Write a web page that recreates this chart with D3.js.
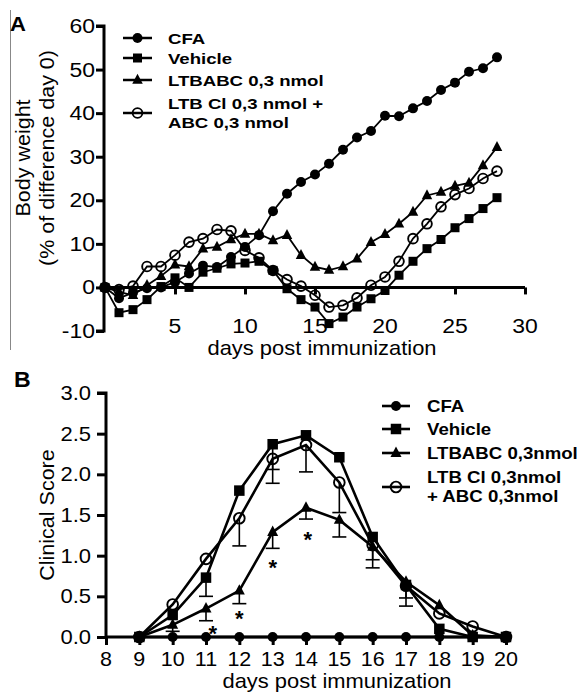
<!DOCTYPE html>
<html><head><meta charset="utf-8">
<script src="https://cdn.jsdelivr.net/npm/d3@7"></script>
<style>html,body{margin:0;padding:0;background:#fff}svg{display:block;font-family:"Liberation Sans",Arial,sans-serif}</style>
</head><body>
<svg id="c" width="578" height="692"></svg>
<script>
// ---------- Panel A data ----------
const daysA = [0,1,2,3,4,5,6,7,8,9,10,11,12,13,14,15,16,17,18,19,20,21,22,23,24,25,26,27,28];
const cfaA = [0,-2.5,-1.2,-0.2,0,1.2,3.2,5,4.7,7,9.3,12,17.5,21.5,24.2,25.9,28.4,31.6,34.4,35.9,39.4,39.3,41.1,42.8,45.3,47,49.5,50.3,52.8];
const vehicleA = [0,-5.8,-5.1,-2.8,0.2,2.2,0,3.5,4.4,5.4,5.6,6,3.9,-0.3,-2.8,-4.5,-8.3,-6.8,-4.5,-2.6,-0.7,2.8,6,8.9,11,13.7,15.8,18.1,20.6];
const ltbabcA = [0,-1,-1.8,0.5,2.6,5.2,4.8,8.9,9.3,11,12.3,12.3,10.8,12,7.4,4.7,4,4.8,6.6,10.4,12.2,14.6,17.3,21.1,21.9,23.3,24,28,32.2];
const ltbclA = [0,-0.5,0.3,4.8,4.8,7.4,10.4,11.2,13.3,13,8.5,6.8,3.9,1.8,0.3,-1.8,-4.5,-4.1,-2.4,0.5,2.4,6,11.2,14.6,18.5,21.3,22.7,25,26.7];
const yTicksA = [-10,0,10,20,30,40,50,60];
const xTicksA = [5,10,15,20,25,30];
const legendA = ["CFA","Vehicle","LTBABC 0,3 nmol",["LTB Cl 0,3 nmol +","ABC 0,3 nmol"]];

// ---------- Panel B data ----------
const daysB = [9,10,11,12,13,14,15,16,17,18,19,20];
const cfaB = [0,0,0,0,0,0,0,0,0,0,0,0];
const vehicleB = [0,0.27,0.73,1.8,2.37,2.48,2.21,1.23,0.64,0.1,0,0];
const ltbabcB = [0,0.15,0.35,0.57,1.29,1.59,1.44,1.11,0.68,0.39,0.02,0];
const ltbclB = [0,0.4,0.96,1.46,2.19,2.36,1.9,1.13,0.63,0.29,0.13,0];
const vehicleErrB = [0,0,0.23,0,0.31,0,0,0,0.16,0,0,0];
const ltbabcErrB = [0,0.08,0.15,0.16,0.2,0.14,0.21,0.16,0,0,0,0];
const ltbclErrB = [0,0,0,0.34,0.3,0.33,0.37,0.28,0.25,0,0,0];
const starDaysB = [11.2,12,13,14.05];
const starValsB = [0.1,0.28,0.91,1.25];
const yTicksB = [0,0.5,1.0,1.5,2.0,2.5,3.0];
const xTicksB = [8,9,10,11,12,13,14,15,16,17,18,19,20];
const legendB = ["CFA","Vehicle","LTBABC 0,3nmol",["LTB Cl 0,3nmol","+ ABC 0,3nmol"]];

const svg = d3.select("#c");
const FONT = '"Liberation Sans",Arial,sans-serif';

function stext(g, x, y, str, size, sx, opts) {
  opts = opts || {};
  const t = g.append("text")
    .attr("transform", `translate(${x},${y})${opts.rotate ? " rotate(-90)" : ""} scale(${sx},1)`)
    .attr("font-size", size).attr("font-family", FONT).attr("fill", "#000")
    .attr("text-anchor", opts.anchor || "start").text(str);
  if (opts.bold) t.attr("font-weight", "bold");
  return t;
}

function marker(g, type, x, y, s) {
  if (type === "circle") {
    g.append("circle").attr("cx",x).attr("cy",y).attr("r",s/2).attr("fill","#000");
  } else if (type === "open") {
    g.append("circle").attr("cx",x).attr("cy",y).attr("r",s/2-0.9).attr("fill","none").attr("stroke","#000").attr("stroke-width",1.9);
  } else if (type === "square") {
    g.append("rect").attr("x",x-s/2).attr("y",y-s/2).attr("width",s).attr("height",s).attr("fill","#000");
  } else if (type === "triangle") {
    const h = s*0.95;
    g.append("path").attr("d",`M${x},${y-h*0.62}L${x+s/2},${y+h*0.38}L${x-s/2},${y+h*0.38}Z`).attr("fill","#000");
  }
}

// ================= PANEL A =================
const xA = d3.scaleLinear().domain([0,30]).range([105,525]);
const yA = d3.scaleLinear().domain([-10,60]).range([331,26]);
const gA = svg.append("g");

gA.append("line").attr("x1",10.5).attr("x2",10.5).attr("y1",10).attr("y2",350).attr("stroke","#888").attr("stroke-width",1);

const yAxisA = d3.axisLeft(yA).tickValues(yTicksA).tickSize(8).tickFormat("");
const gyA = gA.append("g").attr("transform",`translate(${xA(0)-1},0)`).call(yAxisA);
gyA.select(".domain").attr("stroke-width",3).attr("d",`M-8,${yA(60)}H0V${yA(-10)}H-8`);
gyA.selectAll(".tick line").attr("stroke-width",3);
yTicksA.forEach(d => stext(gA, 95, yA(d)+7, d, 20.5, 1.12, {anchor:"end"}));

const xAxisA = d3.axisBottom(xA).tickValues(xTicksA).tickSize(7).tickFormat("");
const gxA = gA.append("g").attr("transform",`translate(0,${yA(0)})`).call(xAxisA);
gxA.select(".domain").attr("stroke-width",3).attr("d",`M${xA(0)},0H${xA(30)}`);
gxA.selectAll(".tick line").attr("stroke-width",3);
xTicksA.forEach(d => stext(gA, xA(d), 333, d, 20.5, 1.12, {anchor:"middle"}));
stext(gA, xA(15)+7, 355, "days post immunization", 20.5, 1.07, {anchor:"middle"});
stext(gA, 30, 158, "Body weight", 20.5, 1.05, {anchor:"middle", rotate:true});
stext(gA, 54, 158, "(% of difference day 0)", 20.5, 1.05, {anchor:"middle", rotate:true});
stext(gA, 10, 31, "A", 21, 1.05, {bold:true});

const seriesA = [
  {vals: cfaA, type:"circle", size:10},
  {vals: vehicleA, type:"square", size:9},
  {vals: ltbabcA, type:"triangle", size:10.5},
  {vals: ltbclA, type:"open", size:11.5}
];
const lineA = d3.line().x(d=>xA(d[0])).y(d=>yA(d[1]));
seriesA.forEach(s => {
  const pts = daysA.map((d,i)=>[d, s.vals[i]]);
  gA.append("path").attr("d",lineA(pts)).attr("fill","none").attr("stroke","#000").attr("stroke-width",1.8);
});
seriesA.forEach(s => {
  const g = gA.append("g");
  daysA.forEach((d,i)=>marker(g, s.type, xA(d), yA(s.vals[i]), s.size));
});

const legAy = [38,58,80,113];
seriesA.forEach((s,i) => {
  const y = legAy[i];
  gA.append("line").attr("x1",123).attr("x2",152).attr("y1",y).attr("y2",y).attr("stroke","#000").attr("stroke-width",2.5);
  marker(gA, s.type, 137.5, y, s.size);
  const lab = legendA[i];
  if (Array.isArray(lab)) {
    stext(gA, 168, y-10+5.5, lab[0], 15.5, 1.2, {bold:true});
    stext(gA, 168, y+9+5.5, lab[1], 15.5, 1.2, {bold:true});
  } else {
    stext(gA, 168, y+5.5, lab, 15.5, 1.2, {bold:true});
  }
});

// ================= PANEL B =================
const xB = d3.scaleLinear().domain([8,20]).range([106,506]);
const yB = d3.scaleLinear().domain([0,3]).range([637,393]);
const gB = svg.append("g");

const yAxisB = d3.axisLeft(yB).tickValues(yTicksB).tickSize(9).tickFormat("");
const gyB = gB.append("g").attr("transform",`translate(${xB(8)},0)`).call(yAxisB);
gyB.select(".domain").attr("stroke-width",3).attr("d",`M-9,${yB(3)}H0V${yB(0)}`);
gyB.selectAll(".tick line").attr("stroke-width",3);
yTicksB.forEach(d => stext(gB, 91, yB(d)+7, d3.format(".1f")(d), 20, 1.1, {anchor:"end"}));

const xAxisB = d3.axisBottom(xB).tickValues(xTicksB).tickSize(8).tickFormat("");
const gxB = gB.append("g").attr("transform",`translate(0,${yB(0)})`).call(xAxisB);
gxB.select(".domain").attr("stroke-width",3).attr("d",`M${xB(8)},0H${xB(20)}`);
gxB.selectAll(".tick line").attr("stroke-width",3);
xTicksB.forEach(d => stext(gB, xB(d), 666, d, 20.5, 1.05, {anchor:"middle"}));

stext(gB, 337, 688, "days post immunization", 20.5, 1.07, {anchor:"middle"});
stext(gB, 54, yB(1.5), "Clinical Score", 20.5, 1.05, {anchor:"middle", rotate:true});
stext(gB, 14, 387, "B", 22, 1.05, {bold:true});

const seriesB = [
  {vals: cfaB, err:null, type:"circle", size:10},
  {vals: vehicleB, err:vehicleErrB, type:"square", size:10.5},
  {vals: ltbabcB, err:ltbabcErrB, type:"triangle", size:11},
  {vals: ltbclB, err:ltbclErrB, type:"open", size:12.5}
];
const lineB = d3.line().x(d=>xB(d[0])).y(d=>yB(d[1]));
seriesB.forEach(s => {
  if (!s.err) return;
  daysB.forEach((d,i)=>{
    const e = s.err[i]; if (!e) return;
    const x = xB(d), y0 = yB(s.vals[i]), y1 = yB(s.vals[i]-e);
    gB.append("line").attr("x1",x).attr("x2",x).attr("y1",y0).attr("y2",y1).attr("stroke","#000").attr("stroke-width",1.6);
    gB.append("line").attr("x1",x-7).attr("x2",x+7).attr("y1",y1).attr("y2",y1).attr("stroke","#000").attr("stroke-width",1.6);
  });
});
seriesB.forEach(s => {
  const pts = daysB.map((d,i)=>[d, s.vals[i]]);
  gB.append("path").attr("d",lineB(pts)).attr("fill","none").attr("stroke","#000").attr("stroke-width",2.6);
});
seriesB.slice().reverse().forEach(s => {
  const g = gB.append("g");
  daysB.forEach((d,i)=>marker(g, s.type, xB(d), yB(s.vals[i]), s.size));
});
gB.selectAll(".star").data(starDaysB).join("text")
  .attr("x",d=>xB(d)).attr("y",(d,i)=>yB(starValsB[i])+12).attr("text-anchor","middle")
  .attr("font-size",22).attr("font-weight","bold").attr("font-family",FONT).text("*");

const legBy = [406,429,453,487];
seriesB.forEach((s,i) => {
  const y = legBy[i];
  gB.append("line").attr("x1",382).attr("x2",410).attr("y1",y).attr("y2",y).attr("stroke","#000").attr("stroke-width",2.6);
  marker(gB, s.type, 396, y, s.size);
  const lab = legendB[i];
  if (Array.isArray(lab)) {
    stext(gB, 427, y-10+6, lab[0], 16.5, 1.13, {bold:true});
    stext(gB, 427, y+9+6, lab[1], 16.5, 1.13, {bold:true});
  } else {
    stext(gB, 427, y+6, lab, 16.5, 1.13, {bold:true});
  }
});
</script>
</body></html>
